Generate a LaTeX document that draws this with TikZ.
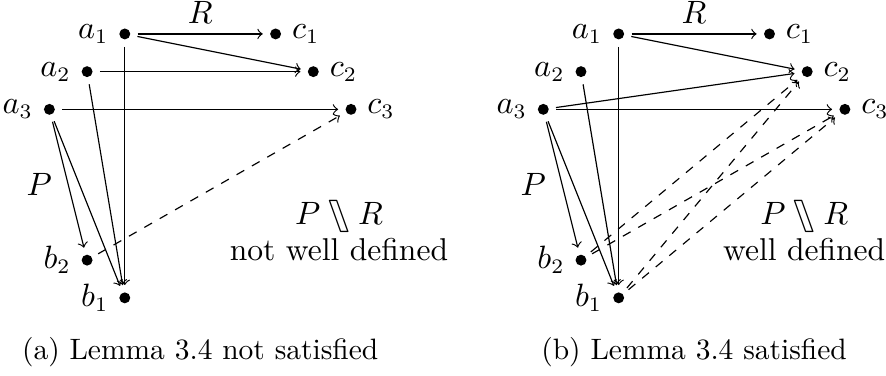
\documentclass[tikz,border=0pt]{standalone}
\usepackage{stmaryrd}

\newcommand{\figfont}{\fontsize{10.7}{12}\selectfont}

\begin{document}
\begin{tikzpicture}[x=12.78pt,y=12.78pt,font=\figfont]

\def\panelgap{13.1} % <-- horizontal offset of the second panel

\tikzset{
    elem/.style={
        circle,
        fill,
        inner sep=0pt,
        minimum size=3.7pt
    },
    rel/.style={
        ->,
        shorten <=2.3pt,
        shorten >=2.3pt
    },
    derived/.style={
        rel,
        dashed
    }
}

\useasboundingbox (-1.31,-7.05) rectangle (22.19,2.90);

% Points of both panels
\foreach \p/\dx in {l/0,r/\panelgap}{
    \begin{scope}[shift={(\dx,0)}]
        \node[elem,label=left:$a_1$]  (\p-a1) at (2,2) {};
        \node[elem,label=left:$a_2$]  (\p-a2) at (1,1) {};
        \node[elem,label=left:$a_3$]  (\p-a3) at (0,0) {};
        \node[elem,label=right:$c_1$] (\p-c1) at (6,2) {};
        \node[elem,label=right:$c_2$] (\p-c2) at (7,1) {};
        \node[elem,label=right:$c_3$] (\p-c3) at (8,0) {};
        \node[elem,label=left:$b_2$]  (\p-b2) at (1,-4) {};
        \node[elem,label=left:$b_1$]  (\p-b1) at (2,-5) {};
    \end{scope}
}

% Arrows shared by both panels
\foreach \p in {l,r}{
    \draw[rel] (\p-a1) -- (\p-c1) node[midway,above] {$R$};
    \draw[rel] (\p-a1) -- (\p-c2);
    \draw[rel] (\p-a3) -- (\p-c3);
    \draw[rel] (\p-a1) -- (\p-b1);
    \draw[rel] (\p-a2) -- (\p-b1);
    \draw[rel] (\p-a3) -- (\p-b2) node[midway,left=2pt] {$P$};
    \draw[rel] (\p-a3) -- (\p-b1);
}

% Panel (a)
\draw[rel] (l-a2) -- (l-c2);
\draw[derived] (l-b2) -- (l-c3);

\node[align=center] (l-note) at (7.68,-3.21) {$P \fatbslash R$\\not well defined};
\node[font=\normalsize] (l-caption) at (4,-6.44) {(a) Lemma 3.4 not satisfied};

% Panel (b)
\draw[rel] (r-a3) -- (r-c2);
\foreach \s/\t in {b2/c2,b2/c3,b1/c2,b1/c3}{
    \draw[derived] (r-\s) -- (r-\t);
}

\node[align=center] (r-note) at ({\panelgap+6.92},-3.21) {$P \fatbslash R$\\well defined};
\node[font=\normalsize] (r-caption) at ({\panelgap+4},-6.44) {(b) Lemma 3.4 satisfied};

\end{tikzpicture}
\end{document}
